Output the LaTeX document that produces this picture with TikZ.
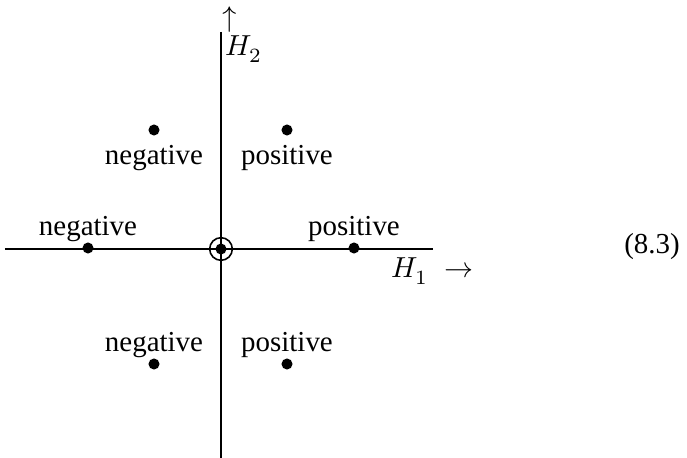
\documentclass[tikz,border=0pt]{standalone}
\usepackage{fontspec}
\setmainfont{Liberation Serif}
\usepackage{unicode-math}
\setmathfont{Latin Modern Math}
\usetikzlibrary{positioning}
\tikzset{
  dot/.style={circle, fill, inner sep=0pt, minimum size=4.2pt},
  lbl/.style={inner sep=1pt, font=\fontsize{11}{13}\selectfont}
}

\begin{document}
\begin{tikzpicture}[x=0.38pt, y=-0.38pt]
        \useasboundingbox (0,0) rectangle (687,458);
        % axes
        \coordinate (xl) at (5,249);
        \coordinate (xr) at (433,249);
        \coordinate (yt) at (221,32);
        \coordinate (yb) at (221,458);
        \draw[line width=0.6pt] (xl) -- (xr);
        \draw[line width=0.6pt] (yt) -- (yb);
        % origin: dot in a circle
        \node[dot] (o) at (221,249) {};
        \node[draw, circle, line width=0.6pt, minimum size=8.6pt, inner sep=0pt] (oc) at (o) {};
        % weights
        \node[dot] (ul) at (154,130) {};
        \node[dot] (ur) at (287,130) {};
        \node[dot] (ml) at (88,248) {};
        \node[dot] (mr) at (354,248) {};
        \node[dot] (ll) at (154,364) {};
        \node[dot] (lr) at (287,364) {};
        \node[lbl, below=2.5pt of ul] (tul) {negative};
        \node[lbl, below=2.5pt of ur] (tur) {positive};
        \node[lbl, above=-1pt of ml] (tml) {negative};
        \node[lbl, above=-1pt of mr] (tmr) {positive};
        \node[lbl, above=-1pt of ll] (tll) {negative};
        \node[lbl, above=-1pt of lr] (tlr) {positive};
        % axis labels
        \node[lbl, anchor=west] (h1) at (388,271) {$H_1\;\rightarrow$};
        \node[lbl, anchor=west] (h2) at (222,49) {$H_2$};
        \node[lbl] (h2a) at (230,20) {$\uparrow$};
        \node[lbl] (eq) at (652,247) {(8.3)};
      \end{tikzpicture}
\end{document}
